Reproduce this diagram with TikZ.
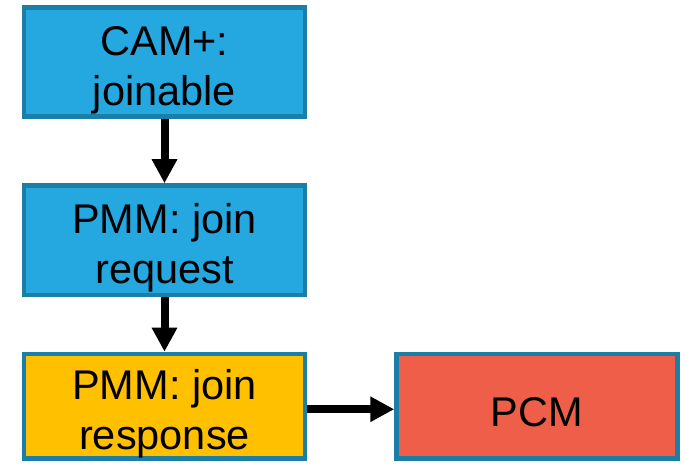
\documentclass[tikz,border=0pt]{standalone}
\usepackage{fontspec}
\setmainfont{Liberation Sans}
\usetikzlibrary{arrows.meta}
\definecolor{boxblue}{HTML}{25A8E0}
\definecolor{boxedge}{HTML}{1B7EA6}
\definecolor{boxyellow}{HTML}{FFC000}
\definecolor{boxred}{HTML}{EF5E48}
\newcommand{\topstrut}{\rule{0pt}{46pt}}
\tikzset{
  flowbox/.style={draw=boxedge, line width=4.5pt, rectangle, inner sep=0pt,
    minimum width=281pt, align=center,
    font=\fontsize{41.5}{50}\selectfont},
  flowarrow/.style={line width=8pt, -{Triangle[length=24pt,width=24pt]}}
}
\begin{document}
\begin{tikzpicture}[x=1pt,y=-1pt]
\useasboundingbox (0,0) rectangle (685,465);
\node[flowbox, fill=boxblue, minimum height=109pt] (b1) at (164.5,62) {\topstrut CAM+:\\joinable};
\node[flowbox, fill=boxblue, minimum height=109.5pt] (b2) at (164.5,240.25) {\topstrut PMM: join\\request};
\node[flowbox, fill=boxyellow, minimum height=104.5pt] (b3) at (164.5,406.25) {\topstrut PMM: join\\response};
\node[flowbox, fill=boxred, minimum height=104.5pt] (b4) at (537,406.25) {\rule{0pt}{41pt}PCM};
\draw[flowarrow] (b1.south) -- (b2.north);
\draw[flowarrow] (b2.south) -- (b3.north);
\draw[flowarrow] ([yshift=-3pt]b3.east) -- ([yshift=-3pt]b4.west);
\end{tikzpicture}
\end{document}
